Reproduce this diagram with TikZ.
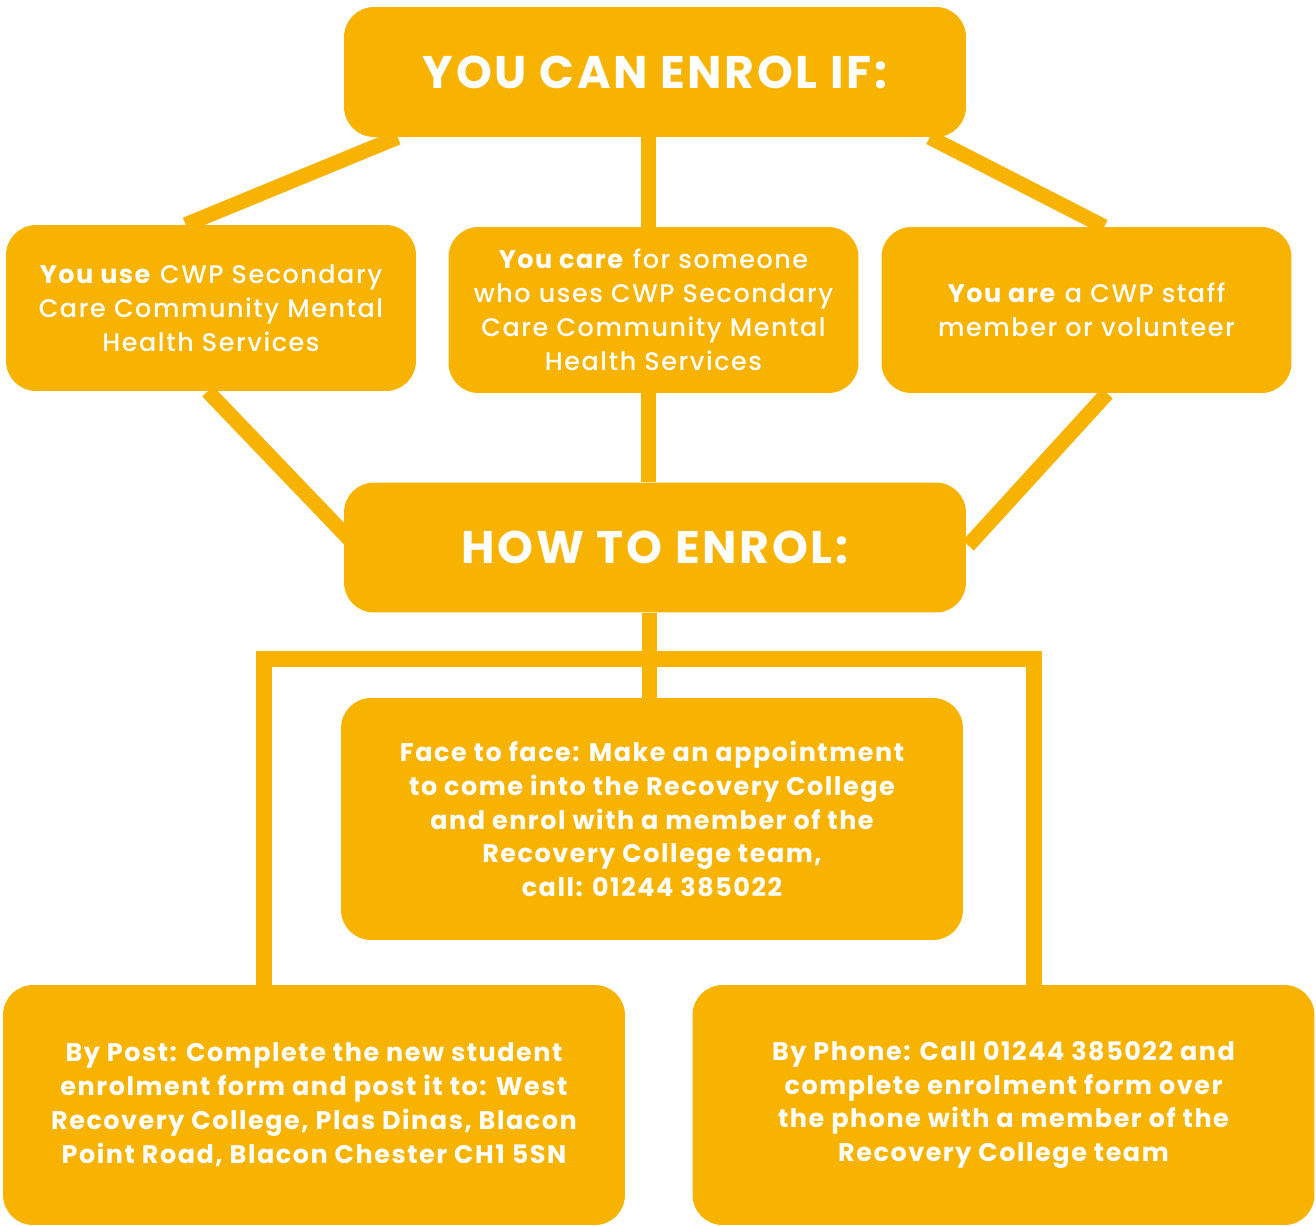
\documentclass[tikz,border=0pt]{standalone}
\usepackage{fontspec}
\setmainfont{Poppins}[LetterSpace=6, UprightFont=* Medium, BoldFont=* Bold]
\usetikzlibrary{calc, backgrounds}
\definecolor{enrolcolor}{RGB}{247,179,0}

\begin{document}
\begin{tikzpicture}[x=0.02cm, y=-0.02cm,
    box/.style={rectangle, rounded corners=0.6cm, fill=enrolcolor, text=white, align=center, inner sep=0pt},
    head/.style={box, minimum width=12.44cm, minimum height=2.6cm, font=\bfseries\fontsize{26}{31}\selectfont},
    who/.style={box, minimum width=8.2cm, minimum height=3.32cm, font=\fontsize{14.5}{19.3}\selectfont},
    way/.style={box, minimum width=12.44cm, font=\bfseries\fontsize{14.5}{19.3}\selectfont},
    link/.style={draw=enrolcolor, line width=0.3cm},
    bracket/.style={draw=enrolcolor, line width=0.32cm}]
    \useasboundingbox (0,0) rectangle (1316,1225);

    \node[head] (enrolif) at (655,72) {YOU CAN ENROL IF:};
    \node[who] (use) at (211,308) {\textbf{You use} CWP Secondary\\Care Community Mental\\Health Services};
    \node[who] (care) at (653.5,310) {\textbf{You care} for someone\\who uses CWP Secondary\\Care Community Mental\\Health Services};
    \node[who] (staff) at (1086.5,310) {\textbf{You are} a CWP staff\\member or volunteer};

    \node[head] (howto) at (655,547.5) {HOW TO ENROL:};
    \node[way, minimum height=4.84cm] (face) at (652,819) {Face to face: Make an appointment\\to come into the Recovery College\\and enrol with a member of the\\Recovery College team,\\call: 01244 385022};
    \node[way, minimum height=4.8cm] (post) at (314,1105) {By Post: Complete the new student\\enrolment form and post it to: West\\Recovery College, Plas Dinas, Blacon\\Point Road, Blacon Chester CH1 5SN};
    \node[way, minimum height=4.8cm] (phone) at (1003.5,1105) {By Phone: Call 01244 385022 and\\complete enrolment form over\\the phone with a member of the\\Recovery College team};

    \begin{scope}[on background layer]
      \draw[link] ($(enrolif.south west)+(54,0)$) -- ($(use.north west)+(180,0)$);
      \draw[link] ($(enrolif.south west)+(586,0)$) -- ($(staff.north west)+(223,0)$);
      \draw[link] ($(care.north)+(-5,0)$) coordinate (c1) -- (c1 |- enrolif.south);
      \draw[link] ($(use.south west)+(202,0)$) -- ($(howto.west)+(6,-8)$);
      \draw[link] ($(staff.south west)+(226,0)$) -- ($(howto.east)+(2,-2)$);
      \draw[link] ($(care.south)+(-5,0)$) coordinate (c2) -- (c2 |- howto.north);
      \draw[link] ($(face.north)+(-3,0)$) coordinate (c3) -- (c3 |- howto.south);
      \draw[bracket] ($(post.north west)+(261,0)$) |- ($(howto.south)+(0,46)$) -| ($(phone.north west)+(342,0)$);
    \end{scope}
\end{tikzpicture}
\end{document}
